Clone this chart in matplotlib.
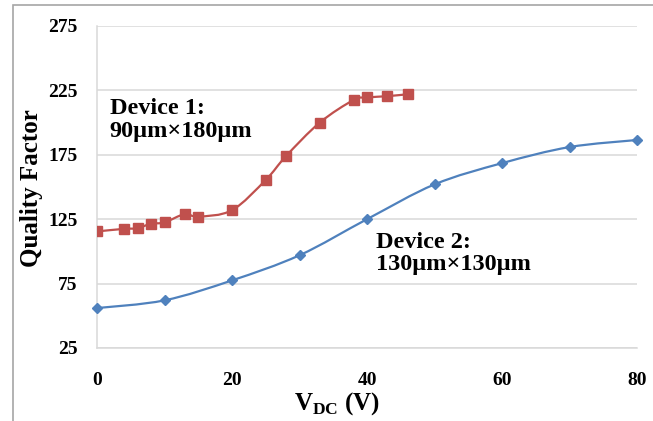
import matplotlib
matplotlib.use("Agg")
import matplotlib.pyplot as plt
from matplotlib.path import Path
from matplotlib.patches import PathPatch, Rectangle

# data
dev1_v = [0, 4, 6, 8, 10, 13, 15, 20, 25, 28, 33, 38, 40, 43, 46]
dev1_q = [115.5, 117.5, 118, 121.5, 122.5, 129, 127, 132, 155.5, 174, 200, 217.5, 219.5, 220.5, 222]
dev2_v = [0, 10, 20, 30, 40, 50, 60, 70, 80]
dev2_q = [56, 62, 77.5, 97, 125, 152, 168.5, 181, 186.5]

y_ticks = [25, 75, 125, 175, 225, 275]
x_ticks = [0, 20, 40, 60, 80]

red = "#C0504D"
blue = "#4F81BD"
grid_c = "#D9D9D9"

plt.rcParams["font.family"] = ["Liberation Serif", "DejaVu Serif"]
plt.rcParams["font.weight"] = "bold"
plt.rcParams["mathtext.fontset"] = "custom"
plt.rcParams["mathtext.rm"] = "Liberation Serif:bold"
plt.rcParams["mathtext.bf"] = "Liberation Serif:bold"


def smooth_path(xs, ys):
    # excel style smoothed line: cubic bezier with catmull-rom control points
    pts = list(zip(xs, ys))
    verts = [pts[0]]
    codes = [Path.MOVETO]
    n = len(pts)
    for i in range(n - 1):
        p0 = pts[i - 1] if i > 0 else pts[i]
        p1 = pts[i]
        p2 = pts[i + 1]
        p3 = pts[i + 2] if i + 2 < n else pts[i + 1]
        c1 = (p1[0] + (p2[0] - p0[0]) / 6, p1[1] + (p2[1] - p0[1]) / 6)
        c2 = (p2[0] - (p3[0] - p1[0]) / 6, p2[1] - (p3[1] - p1[1]) / 6)
        verts += [c1, c2, p2]
        codes += [Path.CURVE4] * 3
    return Path(verts, codes)


fig = plt.figure(figsize=(6.53, 4.21), dpi=100)
ax = fig.add_axes([97 / 653, 1 - 348 / 421, 540 / 653, 322 / 421])

# outer chart frame (cut off at right and bottom)
fig.patches.append(Rectangle((13 / 653, -0.1), 1.2, 1.1 - 5 / 421,
                             transform=fig.transFigure, fill=False,
                             edgecolor="#A6A6A6", linewidth=1.2))

ax.add_patch(PathPatch(smooth_path(dev1_v, dev1_q), fill=False, edgecolor=red, lw=1.6, zorder=3))
ax.plot(dev1_v, dev1_q, ls="none", marker="s", ms=6.5, color=red, zorder=4)

ax.add_patch(PathPatch(smooth_path(dev2_v, dev2_q), fill=False, edgecolor=blue, lw=1.6, zorder=3))
ax.plot(dev2_v, dev2_q, ls="none", marker="D", ms=5.2, color=blue, zorder=4, clip_on=False)

ax.set_xlim(0, 80)
ax.set_ylim(25, 275)
ax.set_xticks(x_ticks)
ax.set_yticks(y_ticks)
ax.tick_params(length=0, labelsize=14)
ax.tick_params(axis="y", pad=14)
ax.tick_params(axis="x", pad=17)
ax.grid(axis="y", color=grid_c, lw=1.1)
ax.set_axisbelow(True)
for s in ["top", "right"]:
    ax.spines[s].set_visible(False)
for s in ["left", "bottom"]:
    ax.spines[s].set_color(grid_c)
    ax.spines[s].set_linewidth(1.1)

ax.set_ylabel("Quality Factor", fontsize=18, fontweight="bold")
ax.yaxis.set_label_coords(-0.1, 0.497)
ax.set_xlabel(r"V$_{\mathrm{DC}}$ (V)", fontsize=18, fontweight="bold")
ax.xaxis.set_label_coords(0.444, -0.13)

ax.text(1.9, 202, "Device 1:\n90\u00b5m\u00d7180\u00b5m", fontsize=17.5,
        fontweight="bold", va="center", ha="left", linespacing=1.1)
ax.text(41.3, 98.5, "Device 2:\n130\u00b5m\u00d7130\u00b5m", fontsize=17.5,
        fontweight="bold", va="center", ha="left", linespacing=1.1)

fig.savefig("out.png", dpi=100)
